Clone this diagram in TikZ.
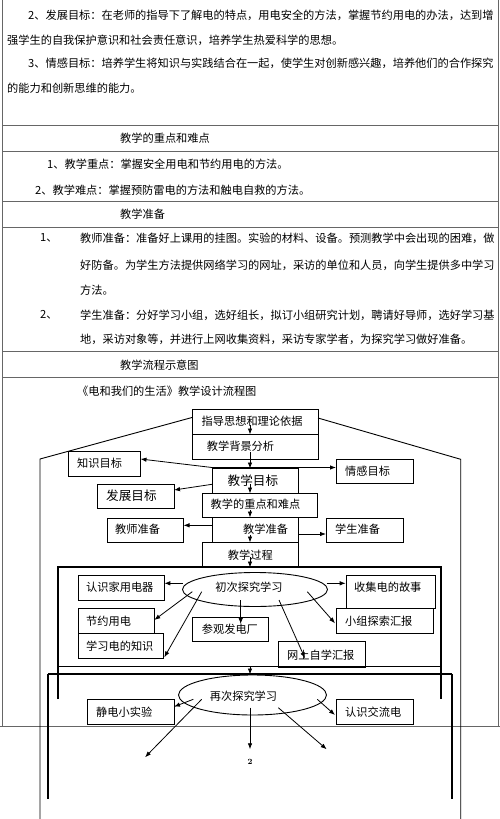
\documentclass[tikz,border=0pt]{standalone}
\usepackage{fontspec}
\newfontfamily\cjk{Noto Sans CJK SC}
\usetikzlibrary{arrows.meta,shapes.geometric}
\begin{document}
\begin{tikzpicture}[x=1pt,y=-1pt,
  tbl/.style={line width=1pt, draw=black!60},
  bx/.style={draw=black, line width=0.9pt, inner sep=0pt, anchor=north west},
  txt/.style={inner sep=0pt, anchor=west, font=\cjk\fontsize{11.2}{13}\selectfont},
  bigtxt/.style={inner sep=0pt, anchor=west, font=\cjk\fontsize{12.6}{14}\selectfont},
  arr/.style={-{Latex[length=6pt,width=4.5pt]}, line width=0.8pt},
  ln/.style={line width=0.9pt},
  ]
\useasboundingbox (0,0) rectangle (500,819);
\fill[white] (0,0) rectangle (500,819);

% ---------- table ----------
\draw[tbl] (2,0) -- (2,726);
\draw[tbl] (498,0) -- (498,726);
\foreach \yy in {125,151,201,227,351,377}{\draw[tbl] (2,\yy) -- (498,\yy);}
\draw[tbl] (0,726) -- (500,726);

% ---------- text rows ----------
\node[txt] (r1) at (28,15) {2、发展目标：在老师的指导下了解电的特点，用电安全的方法，掌握节约用电的办法，达到增};
\node[txt] (r2) at (7,40.5) {强学生的自我保护意识和社会责任意识，培养学生热爱科学的思想。};
\node[txt] (r3) at (28,63.3) {3、情感目标：培养学生将知识与实践结合在一起，使学生对创新感兴趣，培养他们的合作探究};
\node[txt] (r4) at (7,88.3) {的能力和创新思维的能力。};
\node[txt] (h1) at (120,138) {教学的重点和难点};
\node[txt] (r5) at (47,164.5) {1、教学重点：掌握安全用电和节约用电的方法。};
\node[txt] (r6) at (35,190) {2、教学难点：掌握预防雷电的方法和触电自救的方法。};
\node[txt] (h2) at (120,214.5) {教学准备};
\node[txt] (n1) at (40,238.3) {1、};
\node[txt] (r7) at (80,238.3) {教师准备：准备好上课用的挂图。实验的材料、设备。预测教学中会出现的困难，做};
\node[txt] (r8) at (80,265) {好防备。为学生方法提供网络学习的网址，采访的单位和人员，向学生提供多中学习};
\node[txt] (r9) at (80,290) {方法。};
\node[txt] (n2) at (40,315) {2、};
\node[txt] (r10) at (80,315) {学生准备：分好学习小组，选好组长，拟订小组研究计划，聘请好导师，选好学习基};
\node[txt] (r11) at (80,339.3) {地，采访对象等，并进行上网收集资料，采访专家学者，为探究学习做好准备。};
\node[txt] (h3) at (120,365) {教学流程示意图};
\node[txt] (title) at (77,391) {《电和我们的生活》教学设计流程图};

% ---------- outer polygon ----------
\coordinate (pl) at (192,417.5);
\coordinate (pr) at (318,418);
\draw[ln] (40,819) -- (40,459) -- (pl);
\draw[ln] (pr) -- (460.7,459.3) -- (460.7,819);

% ---------- boxes ----------
\node[bx, minimum width=126pt, minimum height=25pt] (zhidao) at (192,409) {};
\node[txt] (zhidaot) at (201.5,421.7) {指导思想和理论依据};
\node[bx, minimum width=126pt, minimum height=25pt] (beijing) at (192,434) {};
\node[txt] (beijingt) at (206.7,446.5) {教学背景分析};
\node[bx, minimum width=72pt, minimum height=24.5pt] (zhishi) at (68,451) {};
\node[txt] (zhishit) at (77,463) {知识目标};
\node[bx, minimum width=77pt, minimum height=24pt] (qinggan) at (336,459) {};
\node[txt] (qinggant) at (345,471) {情感目标};
\node[bx, minimum width=86pt, minimum height=25pt] (mubiao) at (212,468) {};
\node[bigtxt] (mubiaot) at (227.5,480.5) {教学目标};
\node[bx, minimum width=77pt, minimum height=24pt] (fazhan) at (97,484) {};
\node[bigtxt] (fazhant) at (106,496) {发展目标};
\node[bx, minimum width=115pt, minimum height=24pt] (zhongdian) at (202,493) {};
\node[txt] (zhongdiant) at (210.5,504.5) {教学的重点和难点};
\node[bx, minimum width=86pt, minimum height=25pt] (zhunbei) at (212,517) {};
\node[txt] (zhunbeit) at (243,529.5) {教学准备};
\node[bx, minimum width=76pt, minimum height=24pt] (jiaoshi) at (107,518) {};
\node[txt] (jiaoshit) at (115,529.5) {教师准备};
\node[bx, minimum width=77pt, minimum height=24pt] (xuesheng) at (326,518) {};
\node[txt] (xueshengt) at (335,529.5) {学生准备};
\node[bx, minimum width=96pt, minimum height=25pt] (guocheng) at (202,542) {};
\node[txt] (guochengt) at (227.7,555) {教学过程};

% ---------- frame 1 ----------
\draw[line width=1.1pt] (58,699) -- (58,567) -- (441,567) -- (441,699);
\draw[line width=1.1pt] (58,666.5) -- (441,666.5);
\node[ellipse, draw, line width=0.9pt, minimum width=145pt, minimum height=34pt, inner sep=0pt] (e1) at (255,589.5) {};
\node[txt, anchor=center] (e1t) at (249,587) {初次探究学习};
\node[bx, minimum width=86pt, minimum height=25pt] (jiating) at (78,575) {};
\node[txt] (jiatingt) at (86,587.3) {认识家用电器};
\node[bx, minimum width=89pt, minimum height=33pt] (gushi) at (346,575) {};
\node[txt] (gushit) at (354,587.3) {收集电的故事};
\node[bx, minimum width=97pt, minimum height=25pt] (xiaozu) at (336,608) {};
\node[txt] (xiaozut) at (345,621) {小组探索汇报};
\node[bx, minimum width=76pt, minimum height=25pt] (jieyue) at (78,608) {};
\node[txt] (jieyuet) at (86,621) {节约用电};
\node[bx, minimum width=85pt, minimum height=25pt] (xuexi) at (78,633) {};
\node[txt] (xuexit) at (86,646) {学习电的知识};
\node[bx, minimum width=76pt, minimum height=24pt] (canguan) at (192,617) {};
\node[txt] (canguant) at (201.7,629) {参观发电厂};
\node[bx, minimum width=87pt, minimum height=25.5pt] (wangshang) at (278,641) {};
\node[txt] (wangshangt) at (287,655) {网上自学汇报};

% ---------- frame 2 ----------
\draw[line width=1.3pt] (48,674) -- (452,674);
\draw[line width=2pt] (48,674) -- (48,799);
\draw[line width=2pt] (452,674) -- (452,799);
\node[ellipse, draw, line width=0.9pt, minimum width=148pt, minimum height=40pt, inner sep=0pt] (e2) at (252.5,695) {};
\node[txt, anchor=center] (e2t) at (243.5,696) {再次探究学习};
\node[bx, minimum width=87pt, minimum height=25pt] (jingdian) at (87,699.3) {};
\node[txt] (jingdiant) at (96,712.5) {静电小实验};
\node[bx, minimum width=77pt, minimum height=25pt] (jiaoliu) at (336,699.3) {};
\node[txt] (jiaoliut) at (345,712.5) {认识交流电};
\node[inner sep=0pt, font=\fontsize{8}{9}\selectfont\bfseries] (pg) at (250,762) {2};

% ---------- arrows ----------
\coordinate (a1) at (250,425); \draw[arr] (a1) -- (250,434.5);
\coordinate (a2) at (250,452); \draw[arr] (a2) -- (250,468.5);
\coordinate (jn) at (212,467.5);
\coordinate (zk) at (140.5,459);
\draw[arr] (jn) -- (zk);
\coordinate (qk) at (336,467.5);
\draw[arr] (jn) -- (qk);
\coordinate (f0) at (212,484.3); \coordinate (f1) at (174,490); \draw[arr] (f0) -- (f1);
\coordinate (a3) at (250,484); \draw[arr] (a3) -- (250,493.5);
\coordinate (a4) at (250,510); \draw[arr] (a4) -- (250,517.5);
\coordinate (j0) at (212,525.3); \coordinate (j1) at (183.5,525.3); \draw[arr] (j0) -- (j1);
\coordinate (x0) at (298,534); \coordinate (x1) at (326,534); \draw[arr] (x0) -- (x1);
\coordinate (a5) at (250,534.5); \draw[arr] (a5) -- (250,542.5);
\coordinate (a6) at (250,557); \draw[arr] (a6) -- (250,567.5);
\coordinate (b1) at (182.7,583.3); \coordinate (b1e) at (164.3,583.3); \draw[arr] (b1) -- (b1e);
\coordinate (b2) at (326.7,583.3); \coordinate (b2e) at (345.7,583.3); \draw[arr] (b2) -- (b2e);
\coordinate (b3) at (192.3,591.7); \coordinate (b3e) at (154.3,620); \draw[arr] (b3) -- (b3e);
\coordinate (b4) at (201.7,591.7); \coordinate (b4e) at (164.3,657.3); \draw[arr] (b4) -- (b4e);
\coordinate (b5) at (240.7,600); \coordinate (b5e) at (240.7,624); \draw[arr] (b5) -- (b5e);
\coordinate (b6) at (307.3,591.7); \coordinate (b6e) at (335,623.3); \draw[arr] (b6) -- (b6e);
\coordinate (b7) at (279,600); \coordinate (b7e) at (305,658.3); \draw[arr] (b7) -- (b7e);
\coordinate (a7) at (250,666); \draw[arr] (a7) -- (250,674.5);
\coordinate (c1) at (193.3,699.3); \coordinate (c1e) at (174,706.7); \draw[arr] (c1) -- (c1e);
\coordinate (c2) at (317.3,699.3); \coordinate (c2e) at (335,715); \draw[arr] (c2) -- (c2e);
\coordinate (c3) at (201.7,699.3); \coordinate (c3e) at (145,757.3); \draw[arr] (c3) -- (c3e);
\coordinate (c4) at (250,707.7); \coordinate (c4e) at (250,749.3); \draw[arr] (c4) -- (c4e);
\coordinate (c5) at (278.3,707.7); \coordinate (c5e) at (326.7,749.3); \draw[arr] (c5) -- (c5e);
\end{tikzpicture}
\end{document}
